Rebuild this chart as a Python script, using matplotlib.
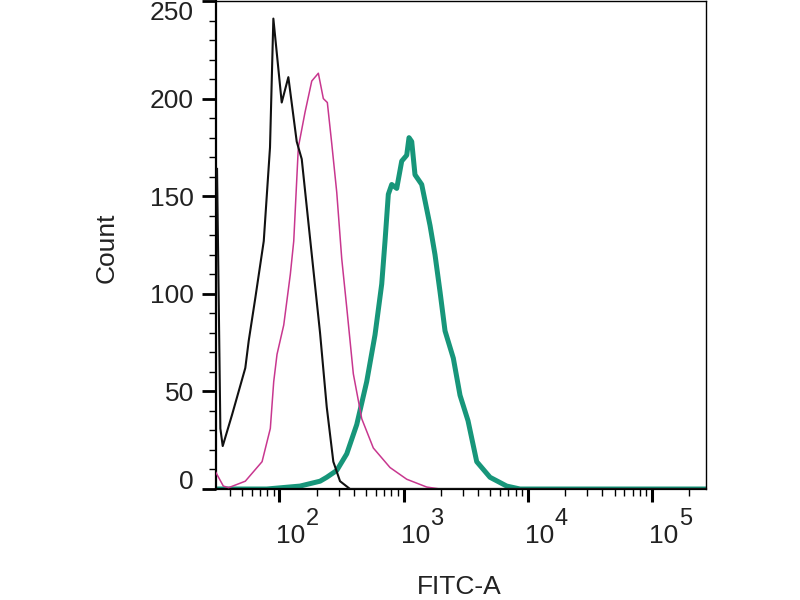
import matplotlib
matplotlib.use('Agg')
import matplotlib.pyplot as plt
from matplotlib.ticker import LogLocator, MultipleLocator, NullFormatter
from matplotlib.transforms import offset_copy

plt.rcParams['font.family'] = ['Liberation Sans', 'DejaVu Sans']

# histogram traces (FITC-A value, count)
black_x = [31.5, 33.5, 35.0, 41.6, 53.2, 56.7, 64.1, 74.9, 84.1, 89.5, 104.5, 118.2,
           138, 151.5, 177.7, 212.7, 240.8, 272.1, 308.1, 370.9, 272000]
black_y = [164, 31, 22, 38, 62, 76, 98, 127, 175, 241, 198, 211,
           178, 169, 127, 80, 42, 14, 4, 0, 0]

mag_x = [30.5, 35.4, 39.1, 53.2, 72.6, 84.6, 90.1, 95.8, 108.5, 122.6, 130.6, 142.2,
         161, 182.4, 206.1, 226.1, 243.5, 264.2, 289.9, 318.0, 348.9, 394.3, 460.8,
         571.3, 778.5, 1061, 1538, 1968, 272000]
mag_y = [9, 1.5, 0.7, 4, 14, 31, 55, 69, 84, 110, 127, 175,
         193, 209, 213, 200, 198, 177, 152, 118, 93, 59, 36,
         21, 11, 5, 1, 0, 0]

grn_x = [31, 79.2, 146.8, 212.7, 240.8, 289.9, 348.9, 420.1, 505.3, 589.5, 667.5,
         709.6, 754.4, 803.5, 881.6, 967.2, 1061, 1107, 1164, 1237, 1401, 1635, 1793,
         1968, 2159, 2518, 2851, 3306, 3885, 4971, 6776, 8670, 272000]
grn_y = [0, 0, 1.5, 4, 6, 9.5, 18, 33, 55, 79, 105,
         127, 151, 156, 154, 168, 171, 180, 178, 161, 156, 135, 120,
         101, 81, 67, 48, 35, 14, 6, 1.5, 0, 0]

ytick_vals = [0, 50, 100, 150, 200, 250]
ytick_labels = ['0', '50', '100', '150', '200', '250']
xtick_vals = [1e2, 1e3, 1e4, 1e5]
xtick_exps = ['2', '3', '4', '5']

txt = '#222222'

fig = plt.figure(figsize=(8, 6), dpi=100)
ax = fig.add_axes([0.27, 0.185, 0.6125, 0.8133])

ax.plot(grn_x, grn_y, color='#17967a', lw=3.6, zorder=2, solid_joinstyle='round')
ax.plot(mag_x, mag_y, color='#c8378f', lw=1.1, zorder=3)
ax.plot(black_x, black_y, color='#111111', lw=1.5, zorder=4)

ax.set_xscale('log')
ax.set_xlim(30.9, 272700)
ax.set_ylim(0, 250)

for side in ['left', 'bottom']:
    ax.spines[side].set_linewidth(1.6)
for side in ['top', 'right']:
    ax.spines[side].set_linewidth(1.0)

# y axis
ax.set_yticks(ytick_vals)
ax.set_yticklabels(ytick_labels)
ax.yaxis.set_minor_locator(MultipleLocator(10))
ax.tick_params(axis='y', which='major', direction='out', length=10, width=2,
               pad=6, labelsize=19, labelcolor=txt)
ax.tick_params(axis='y', which='minor', direction='out', length=5, width=1)
labs = ax.get_yticklabels()
labs[0].set_va('baseline')
labs[-1].set_va('top')

# x axis
ax.set_xticks(xtick_vals)
ax.set_xticklabels([])
ax.xaxis.set_minor_locator(LogLocator(base=10, subs=range(2, 10), numticks=20))
ax.xaxis.set_minor_formatter(NullFormatter())
ax.tick_params(axis='x', which='major', direction='out', length=9.5, width=2.2)
ax.tick_params(axis='x', which='minor', direction='out', length=5, width=1)

base_tr = offset_copy(ax.get_xaxis_transform(), fig=fig, x=-3, y=-54, units='dots')
exp_tr = offset_copy(ax.get_xaxis_transform(), fig=fig, x=27, y=-36, units='dots')
for v, e in zip(xtick_vals, xtick_exps):
    ax.text(v, 0, '10', transform=base_tr, ha='left', va='baseline',
            fontsize=19, color=txt)
    ax.text(v, 0, e, transform=exp_tr, ha='left', va='baseline',
            fontsize=17, color=txt)

fig.text(107 / 800, 1 - 247.5 / 600, 'Count', rotation=90, ha='center',
         va='center', fontsize=19, color=txt)
fig.text(459 / 800, 1 - 594 / 600, 'FITC-A', ha='center', va='baseline',
         fontsize=19, color=txt)

fig.savefig('out.png', dpi=100)
